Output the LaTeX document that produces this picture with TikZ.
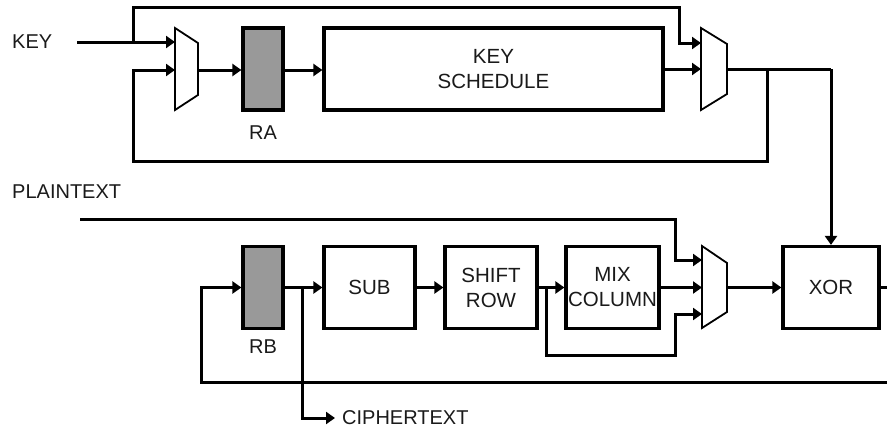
\documentclass[tikz,border=0pt]{standalone}
\usepackage{fontspec}
\setmainfont{Liberation Sans}
\usetikzlibrary{arrows.meta,calc}
\definecolor{regfill}{HTML}{999999}
\definecolor{ink}{HTML}{1A1A1A}
\begin{document}
\begin{tikzpicture}[x=1pt,y=-1pt,
  wire/.style={line width=3pt,line join=miter},
  arr/.style={wire,-{Triangle[length=9pt,width=12pt]}},
  blk/.style={draw,line width=3.2pt,fill=white,inner sep=0pt,minimum height=82pt,
    text=ink,font=\fontsize{20.5}{25}\selectfont,align=center},
  reg/.style={draw,line width=3.2pt,fill=regfill,inner sep=0pt,minimum width=40pt,minimum height=82pt},
  lbl/.style={text=ink,font=\fontsize{20}{25}\selectfont,inner sep=0pt},
  muxshape/.style={draw,line width=1.8pt,fill=white,line join=miter}]
\useasboundingbox (0,0) rectangle (887,431);

% ---------- key path ----------
\node[lbl,anchor=west] (keylbl) at (12,42) {KEY};
\coordinate (keyin) at (77,42);

% multiplexer 1
\draw[muxshape] (175,28) -- (198,43) -- (198,95) -- (175,110) -- cycle;
\coordinate (m1a) at (175,42);
\coordinate (m1b) at (175,70);
\coordinate (m1o) at (198,70);

\node[reg] (ra) at (263,69) {};
\node[lbl] (ralbl) at (263,133) {RA};
\node[blk,minimum width=339pt] (ks) at (493.5,69) {KEY\\SCHEDULE};

% multiplexer 2
\draw[muxshape] (701,28) -- (727,44) -- (727,94) -- (701,110) -- cycle;
\coordinate (m2a) at (701,43);
\coordinate (m2b) at (701,69);
\coordinate (m2o) at (727,69);

\coordinate (jtop) at (133,42);
\coordinate (jfb) at (767,69);
\coordinate (jxor) at (831,69);

\draw[arr] (keyin) -- (m1a);
\draw[arr] (jtop) -- (133,7) -- (679,7) -- (679,43) -- (m2a);
\draw[arr] (m1o) -- (ra.west |- m1o);
\draw[arr] (ra.east |- m1o) -- (ks.west |- m1o);
\draw[arr] (ks.east |- m2b) -- (m2b);
\draw[wire] (m2o) -- (jxor);
\draw[arr] (jfb) -- (767,161) -- (133,161) -- (133,70) -- (m1b);

% ---------- data path ----------
\node[lbl,anchor=west] (ptlbl) at (12,192) {PLAINTEXT};
\coordinate (ptin) at (80,219);

\node[reg] (rb) at (263,287.5) {};
\node[lbl] (rblbl) at (263,347) {RB};
\node[blk,minimum width=91pt] (sub) at (369.5,287.5) {SUB};
\node[blk,minimum width=92pt] (sr) at (491,287.5) {SHIFT\\ROW};
\node[blk,minimum width=93pt] (mc) at (612.5,287.5) {MIX\\COLUMN};

% multiplexer 3
\draw[muxshape] (702,246) -- (727,263) -- (727,312) -- (702,328) -- cycle;
\coordinate (m3a) at (702,260);
\coordinate (m3b) at (702,287.5);
\coordinate (m3c) at (702,314);
\coordinate (m3o) at (727,287.5);

\node[blk,minimum width=96pt] (xor) at (831,287.5) {XOR};

\coordinate (jct) at (302,287.5);
\coordinate (jsr) at (546,287.5);
\coordinate (outr) at (887,287.5);
\coordinate (fbr) at (887,382);
\coordinate (ctend) at (335,418);
\node[lbl,anchor=west] (ctlbl) at (342,418) {CIPHERTEXT};

\draw[arr] (jxor) -- (xor.north);
\draw[arr] (ptin) -- (675,219) -- (675,260) -- (m3a);
\draw[arr] (fbr) -- (201,382) -- (201,287.5) -- (rb.west);
\draw[arr] (rb.east) -- (sub.west);
\draw[arr] (jct) -- (302,418) -- (ctend);
\draw[arr] (sub.east) -- (sr.west);
\draw[arr] (sr.east) -- (mc.west);
\draw[arr] (jsr) -- (546,355) -- (675,355) -- (675,314) -- (m3c);
\draw[arr] (mc.east) -- (m3b);
\draw[arr] (m3o) -- (xor.west);
\draw[wire] (xor.east) -- (outr);
\end{tikzpicture}
\end{document}
